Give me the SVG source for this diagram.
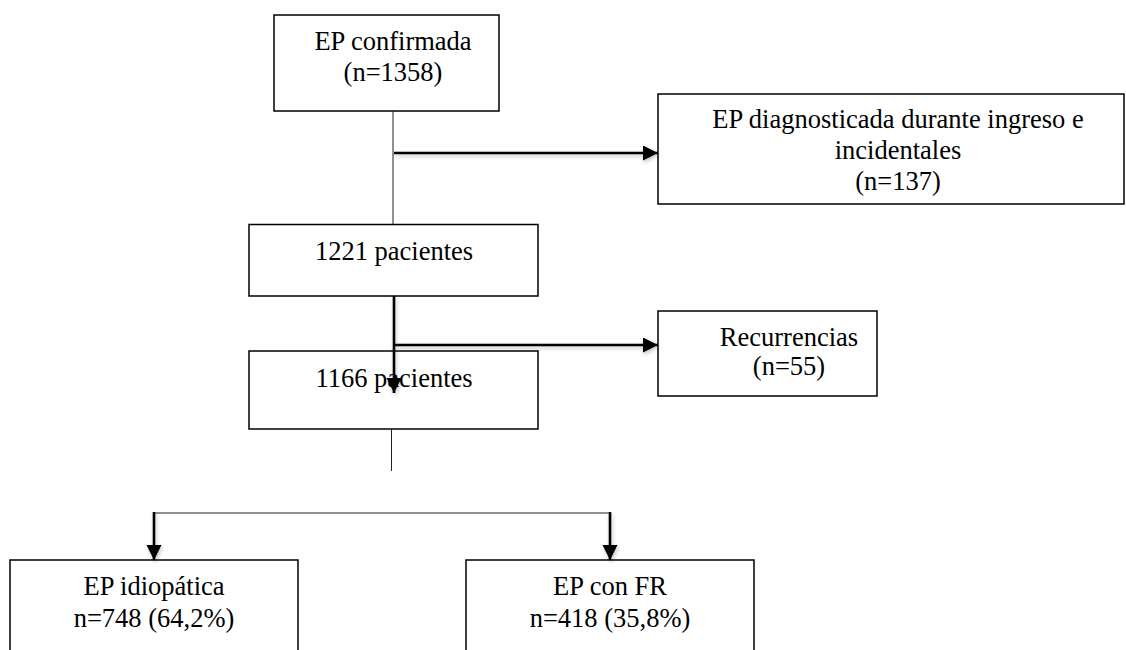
<svg xmlns="http://www.w3.org/2000/svg" width="1126" height="650" viewBox="0 0 1126 650">
<style>
.box{fill:#fff;stroke:#000;stroke-width:1.5}
.t{font-family:"Liberation Serif","Times New Roman",serif;font-size:26.5px;fill:#000;text-anchor:middle}
.thin{stroke:#222;stroke-width:1;fill:none}
.thick{stroke:#000;stroke-width:2.6;fill:none;marker-end:url(#ah)}
</style>
<defs>
<marker id="ah" markerUnits="userSpaceOnUse" markerWidth="16" markerHeight="16" refX="15" refY="7.5" orient="auto">
<path d="M0,0 L15,7.5 L0,15 z" fill="#000"/>
</marker>
<filter id="sh" x="-10%" y="-50%" width="120%" height="200%">
<feGaussianBlur in="SourceAlpha" stdDeviation="2"/>
<feOffset dx="1" dy="2" result="b"/>
<feComponentTransfer><feFuncA type="linear" slope="0.25"/></feComponentTransfer>
<feMerge><feMergeNode/><feMergeNode in="SourceGraphic"/></feMerge>
</filter>
</defs>
<g id="n1"><rect class="box" x="274" y="15" width="225" height="96"/>
<text class="t" x="393" y="50">EP confirmada</text><text class="t" x="393" y="81">(n=1358)</text></g>
<g id="n2"><rect class="box" x="658" y="94" width="466" height="110"/>
<text class="t" x="898" y="128">EP diagnosticada durante ingreso e</text><text class="t" x="898" y="159">incidentales</text><text class="t" x="898" y="190">(n=137)</text></g>
<g id="n3"><rect class="box" x="249" y="224.5" width="289" height="71.5"/>
<text class="t" x="394" y="260">1221 pacientes</text></g>
<g id="n4"><rect class="box" x="658" y="311" width="219" height="85"/>
<text class="t" x="789" y="346">Recurrencias</text><text class="t" x="789" y="375">(n=55)</text></g>
<g id="n5"><rect class="box" x="249" y="351" width="289" height="78"/>
<text class="t" x="394" y="387">1166 pacientes</text></g>
<g id="n6"><rect class="box" x="10" y="560" width="288" height="100"/>
<text class="t" x="154" y="595">EP idiopática</text><text class="t" x="154" y="627">n=748 (64,2%)</text></g>
<g id="n7"><rect class="box" x="466" y="560" width="288" height="100"/>
<text class="t" x="610" y="595">EP con FR</text><text class="t" x="610" y="627">n=418 (35,8%)</text></g>
<g id="connectors">
<line class="thin" x1="393" y1="111" x2="393" y2="224"/>
<line class="thin" x1="391.5" y1="429" x2="391.5" y2="471"/>
<line class="thin" x1="154" y1="513" x2="610" y2="513" stroke="#555"/>
<g filter="url(#sh)">
<line class="thick" x1="394" y1="153" x2="658" y2="153"/>
<line class="thick" x1="394" y1="296" x2="394" y2="393"/>
<line class="thick" x1="394" y1="345" x2="658" y2="345"/>
<line class="thick" x1="154" y1="512" x2="154" y2="560"/>
<line class="thick" x1="610" y1="512" x2="610" y2="560"/>
</g>
</g>
</svg>
